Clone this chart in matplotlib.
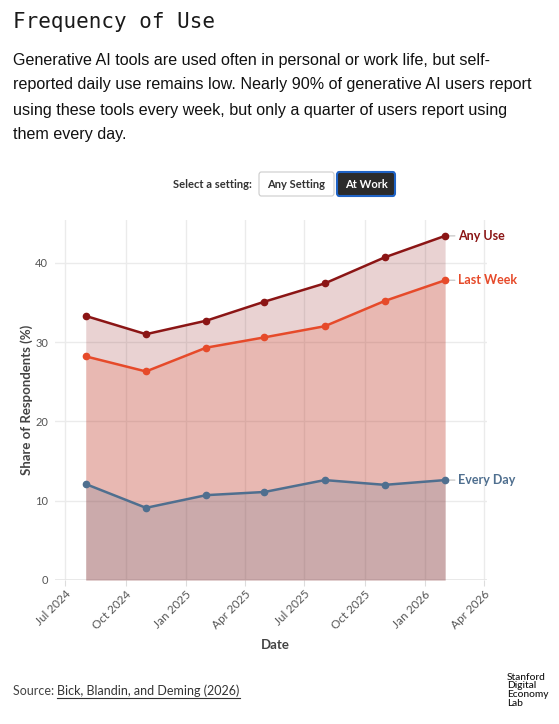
import matplotlib
matplotlib.use("Agg")
import matplotlib.pyplot as plt
import matplotlib.dates as mdates
from matplotlib.patches import FancyBboxPatch
from matplotlib.lines import Line2D
import datetime as dt

# ---- data ----
dates = ["2024-08-01", "2024-11-01", "2025-02-01", "2025-05-01",
         "2025-08-01", "2025-11-01", "2026-02-01"]
any_use = [33.3, 31.0, 32.7, 35.1, 37.4, 40.7, 43.4]
last_week = [28.2, 26.3, 29.3, 30.6, 32.0, 35.2, 37.8]
every_day = [12.1, 9.1, 10.7, 11.1, 12.6, 12.0, 12.6]
series_names = ["Any Use", "Last Week", "Every Day"]
series_colors = ["#8b1515", "#e64a2a", "#4f6f8f"]
y_ticks = [0, 10, 20, 30, 40]
x_tick_dates = ["2024-07-01", "2024-10-01", "2025-01-01", "2025-04-01",
                "2025-07-01", "2025-10-01", "2026-01-01", "2026-04-01"]

x = [dt.datetime.strptime(d, "%Y-%m-%d") for d in dates]
xt = [dt.datetime.strptime(d, "%Y-%m-%d") for d in x_tick_dates]

W, H = 559, 724
fig = plt.figure(figsize=(W / 100, H / 100), dpi=100)
fig.patch.set_facecolor("white")

def fx(px):
    return px / W

def fy(py):
    return 1 - py / H

# ---- header text ----
fig.text(fx(13), fy(22), "Frequency of Use", fontsize=15, family="DejaVu Sans Mono",
         color="#1a1a1a", va="center", ha="left")
body = ["Generative AI tools are used often in personal or work life, but self-",
        "reported daily use remains low. Nearly 90% of generative AI users report",
        "using these tools every week, but only a quarter of users report using",
        "them every day."]
for i, line in enumerate(body):
    fig.text(fx(13), fy(60 + i * 25), line, fontsize=11.6, family="Liberation Sans",
             color="#111111", va="center", ha="left")

# ---- setting selector ----
fig.text(fx(252), fy(184), "Select a setting:", fontsize=8, family="Lato",
         fontweight="bold", color="#333333", va="center", ha="right")
b1 = FancyBboxPatch((fx(259), fy(196)), fx(334 - 259), (196 - 172) / H,
                    boxstyle="round,pad=0,rounding_size=0.004", transform=fig.transFigure,
                    facecolor="white", edgecolor="#cccccc", linewidth=0.8)
fig.patches.append(b1)
fig.text(fx(296.5), fy(184), "Any Setting", fontsize=8, family="Lato", fontweight="bold",
         color="#333333", va="center", ha="center")
b2 = FancyBboxPatch((fx(337), fy(196)), fx(395 - 337), (196 - 172) / H,
                    boxstyle="round,pad=0,rounding_size=0.004", transform=fig.transFigure,
                    facecolor="#2b2b2b", edgecolor="#1f63c6", linewidth=1.5)
fig.patches.append(b2)
fig.text(fx(366), fy(184), "At Work", fontsize=8, family="Lato", fontweight="bold",
         color="white", va="center", ha="center")

# ---- chart ----
ax = fig.add_axes([fx(55), fy(580), fx(487 - 55), (580 - 220) / H])
ax.set_facecolor("white")
for s in ax.spines.values():
    s.set_visible(False)

for vals, col in zip([any_use, last_week, every_day], series_colors):
    ax.fill_between(x, 0, vals, color=col, alpha=0.19, linewidth=0, zorder=2)
for vals, col in zip([any_use, last_week, every_day], series_colors):
    ax.plot(x, vals, color=col, linewidth=1.8, marker="o", markersize=4.5, zorder=4)

ax.set_ylim(0, 45.4)
ax.set_xlim(dt.datetime(2024, 6, 15), dt.datetime(2026, 4, 6))
ax.set_yticks(y_ticks)
ax.set_xticks(xt)
ax.xaxis.set_major_formatter(mdates.DateFormatter("%b %Y"))
ax.grid(True, color="#ebebeb", linewidth=1, zorder=0)
ax.set_axisbelow(True)
ax.tick_params(axis="y", length=0, pad=5, labelsize=8, labelcolor="#555555")
ax.tick_params(axis="x", length=4, width=0.8, color="#dddddd", pad=2, labelsize=8.5,
               labelcolor="#555555")
for lab in ax.get_xticklabels():
    lab.set_rotation(45)
    lab.set_ha("right")
    lab.set_rotation_mode("anchor")
    lab.set_family("Lato")
for lab in ax.get_yticklabels():
    lab.set_family("Lato")
ax.axhline(0, color="#e6e6e6", linewidth=1.2, zorder=1)

ax.set_ylabel("Share of Respondents (%)", fontsize=9.5, family="Lato", fontweight="bold",
              color="#444444", va="center")
ax.yaxis.set_label_coords((27 - 55) / 432, 0.5)
ax.set_xlabel("Date", fontsize=9.5, family="Lato", fontweight="bold", color="#444444",
              va="center")
ax.xaxis.set_label_coords((275 - 55) / 432, (580 - 645) / 360)

# end labels
for vals, col, name in zip([any_use, last_week, every_day], series_colors, series_names):
    ax.annotate(name, xy=(x[-1], vals[-1]), xytext=(9, 0), textcoords="offset points",
                va="center", ha="left", fontsize=9, family="Lato", fontweight="bold",
                color=col, zorder=5, annotation_clip=False)
    ax.annotate("", xy=(x[-1], vals[-1]), xytext=(7, 0), textcoords="offset points",
                arrowprops=dict(arrowstyle="-", color="#cccccc", lw=1, shrinkA=0, shrinkB=3),
                annotation_clip=False)

# ---- source + logo ----
t1 = fig.text(fx(13), fy(691), "Source: ", fontsize=9, family="Lato", color="#444444",
              va="center", ha="left")
fig.canvas.draw()
r = fig.canvas.get_renderer()
bb = t1.get_window_extent(r)
t2 = fig.text(bb.x1 / W, fy(691), "Bick, Blandin, and Deming (2026)", fontsize=9,
              family="Lato", color="#333333", va="center", ha="left")
fig.canvas.draw()
bb2 = t2.get_window_extent(r)
fig.lines.append(Line2D([bb2.x0 / W, bb2.x1 / W], [(bb2.y0 - 1) / H, (bb2.y0 - 1) / H],
                       transform=fig.transFigure, color="#333333", linewidth=0.8))

logo = ["Stanford", "Digital", "Economy", "Lab"]
for i, w in enumerate(logo):
    fig.text(fx(507), fy(677 + i * 8.7), w, fontsize=7.3, family="Lato",
             fontweight="medium", color="#111111", va="center", ha="left")

fig.savefig("out.png", dpi=100, facecolor="white")
